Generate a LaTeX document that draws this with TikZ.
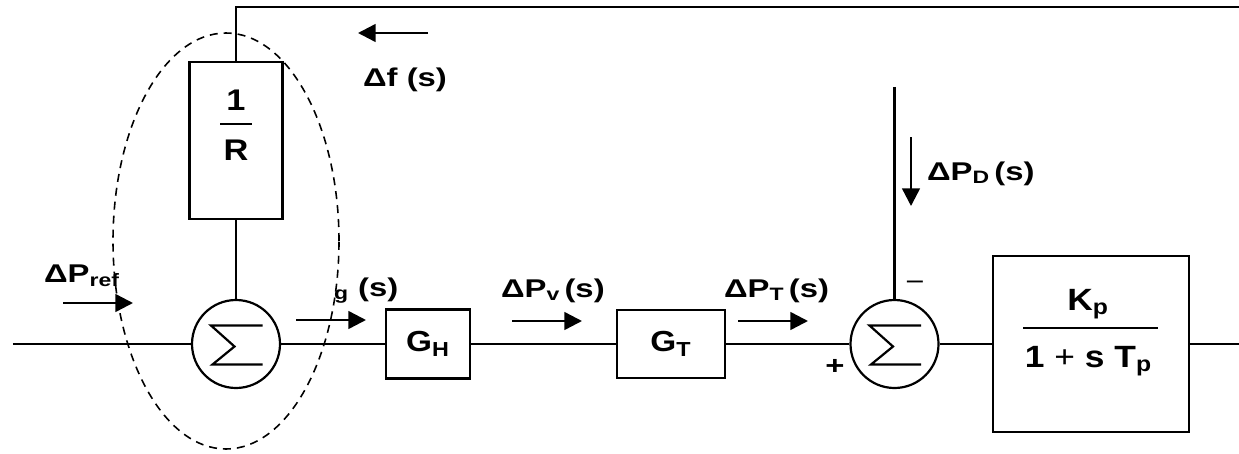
\documentclass[tikz,border=0pt]{standalone}
\usepackage{fontspec}
\setmainfont{Liberation Sans}[FakeStretch=1.15]
\newfontfamily\sigfont{Liberation Sans}[FakeStretch=1.28]
\usetikzlibrary{arrows.meta}
\usetikzlibrary{positioning}

\tikzset{
  blockfont/.style={font=\fontsize{16.5}{19}\selectfont\bfseries},
  block/.style={draw, blockfont, line width=1.35pt, inner sep=0pt},
  summer/.style={circle, draw, minimum size=1.76cm, inner sep=0pt,
    path picture={\draw (path picture bounding box.center) ++(0.53,0.37)
      -- ++(-1.03,0) -- ++(0.47,-0.42) -- ++(-0.44,-0.36) -- ++(1,0);}},
  sig/.style={font=\sigfont\fontsize{14.6}{17}\selectfont\bfseries, inner sep=0pt, anchor=base west},
  flow/.style={line width=1.4pt, -{Triangle[length=10pt,width=10pt]}},
}

\begin{document}
\begin{tikzpicture}[line width=1.25pt]
  \useasboundingbox (0,-2.18) rectangle (24.78,6.88);

  % forward path
  \node[summer] (sum1) at (4.72,0) {};
  \node[block, minimum width=1.68cm, minimum height=1.38cm] (gh) at (8.56,0) {G\textsubscript{H}};
  \node[block, minimum width=2.16cm, minimum height=1.36cm] (gt) at (13.42,0) {G\textsubscript{T}};
  \node[summer] (sum2) at (17.89,0) {};
  \node[block, minimum width=3.92cm, minimum height=3.52cm] (plant) at (21.82,0) {};

  % droop block
  \node[block, minimum width=1.86cm, minimum height=3.14cm] (recip) at (4.72,4.07) {};
  \node[blockfont, font=\fontsize{17}{19}\selectfont\bfseries] (one) at (4.72,4.88) {1};
  \node[blockfont, font=\fontsize{17}{19}\selectfont\bfseries] (rr) at (4.72,3.88) {R};
  \draw[line width=1pt] (4.40,4.4) -- (5.04,4.4);

  % plant transfer function
  \node[font=\fontsize{17.5}{20}\selectfont\bfseries, anchor=base] (gain) at (21.76,0.68) {K\textsubscript{p}};
  \node[font=\fontsize{17.5}{20}\selectfont\bfseries, anchor=base] (lag) at (21.77,-0.46) {1 {\mdseries +} s T\textsubscript{p}};
  \draw[line width=1pt] (20.46,0.32) -- (23.16,0.32);

  \coordinate (in) at (0.26,0);
  \coordinate (out) at (24.78,0);
  \coordinate (fb) at (24.78,6.74);
  \coordinate (load) at (17.89,5.14);

  % connections
  \draw (in) -- (sum1.west);
  \draw (sum1.east) -- (gh.west);
  \draw (gh.east) -- (gt.west);
  \draw (gt.east) -- (sum2.west);
  \draw (sum2.east) -- (plant.west);
  \draw (plant.east) -- (out);
  \draw (fb) -- (recip.north |- fb) -- (recip.north);
  \draw (recip.south) -- (sum1.north);
  \draw (load) -- (sum2.north);

  % signal labels
  \node[sig] (pref) at (0.86,1.24) {ΔP\textsubscript{ref}};
  \draw[flow] (1.26,0.82) -- (2.66,0.82);
  \node[sig] (pg) at (6.66,0.96) {\textsubscript{g} (s)};
  \draw[flow] (5.92,0.48) -- (7.32,0.48);
  \node[sig] (pv) at (10.0,0.94) {ΔP\textsubscript{v}\,(s)};
  \draw[flow] (10.24,0.46) -- (11.64,0.46);
  \node[sig] (pt) at (14.46,0.94) {ΔP\textsubscript{T}\,(s)};
  \draw[flow] (14.76,0.46) -- (16.16,0.46);
  \node[sig] (pd) at (18.52,3.28) {ΔP\textsubscript{D}\,(s)};
  \draw[flow] (18.22,4.14) -- (18.22,2.76);
  \node[sig] (df) at (7.24,5.14) {Δf (s)};
  \draw[flow] (8.56,6.22) -- (7.16,6.22);

  \node[sig, anchor=center] (plus) at (16.7,-0.46) {+};
  \node[sig, anchor=center] (minus) at (18.3,1.16) {\mdseries −};

  % governor grouping
  \draw[dashed, line width=0.9pt, dash pattern=on 0.16cm off 0.12cm]
    (4.52,2.06) ellipse [x radius=2.26, y radius=4.16];
\end{tikzpicture}
\end{document}
